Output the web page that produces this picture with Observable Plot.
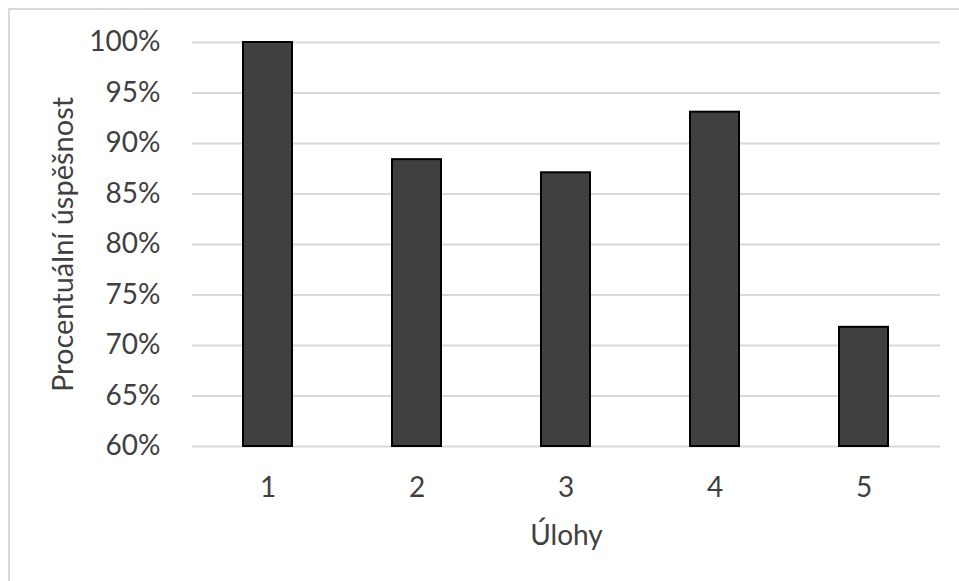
<!DOCTYPE html>
<html>
<head>
<meta charset="utf-8">
<script src="https://cdn.jsdelivr.net/npm/d3@7"></script>
<script src="https://cdn.jsdelivr.net/npm/@observablehq/plot@0.6"></script>
<style>
  html, body { margin: 0; padding: 0; background: #fff; }
  #chart { position: relative; width: 959px; height: 581px; overflow: hidden; }
  #frame { position: absolute; left: 8px; top: 8px; width: 980px; height: 600px;
           border-top: 2px solid #d9d9d9; border-left: 2px solid #d9d9d9; box-sizing: border-box; }
  #chart svg { position: absolute; left: 0; top: 0; }
</style>
</head>
<body>
<div id="chart"><div id="frame"></div></div>
<script>
// Úspěšnost řešení jednotlivých úloh
const tasks = ["1", "2", "3", "4", "5"];
const success = [1.00, 0.884, 0.871, 0.931, 0.718];
const yTicks = [0.60, 0.65, 0.70, 0.75, 0.80, 0.85, 0.90, 0.95, 1.00];
const xTitle = "Úlohy";
const yTitle = "Procentuální úspěšnost";

const rows = tasks.map((t, i) => ({task: t, value: success[i]}));
const font = "Lato, 'Open Sans', sans-serif";

const chart = Plot.plot({
  width: 959,
  height: 581,
  marginLeft: 192,
  marginRight: 19,
  marginTop: 42,
  marginBottom: 135,
  style: {fontFamily: font, fontSize: "28px", color: "#404040", background: "transparent"},
  x: {domain: tasks, paddingInner: 0.67, paddingOuter: 0.335, label: null},
  y: {domain: [0.6, 1.0], label: null},
  marks: [
    Plot.ruleY(yTicks, {stroke: "#d9d9d9", strokeWidth: 2}),
    Plot.barY(rows, {x: "task", y1: 0.6, y2: "value", fill: "#404040", stroke: "#000", strokeWidth: 2}),
    Plot.axisY(yTicks, {tickSize: 0, tickPadding: 32, tickFormat: d3.format(".0%"), label: null, fill: "#404040"}),
    Plot.axisX({tickSize: 0, tickPadding: 31, label: null, fill: "#404040"}),
    Plot.text([yTitle], {frameAnchor: "left", dx: -129, rotate: -90, text: d => d, textAnchor: "middle", fill: "#404040", fontSize: 29}),
    Plot.text([xTitle], {frameAnchor: "bottom", dy: 98, text: d => d, fill: "#404040", fontSize: 28})
  ]
});
document.getElementById("chart").appendChild(chart);
</script>
</body>
</html>
